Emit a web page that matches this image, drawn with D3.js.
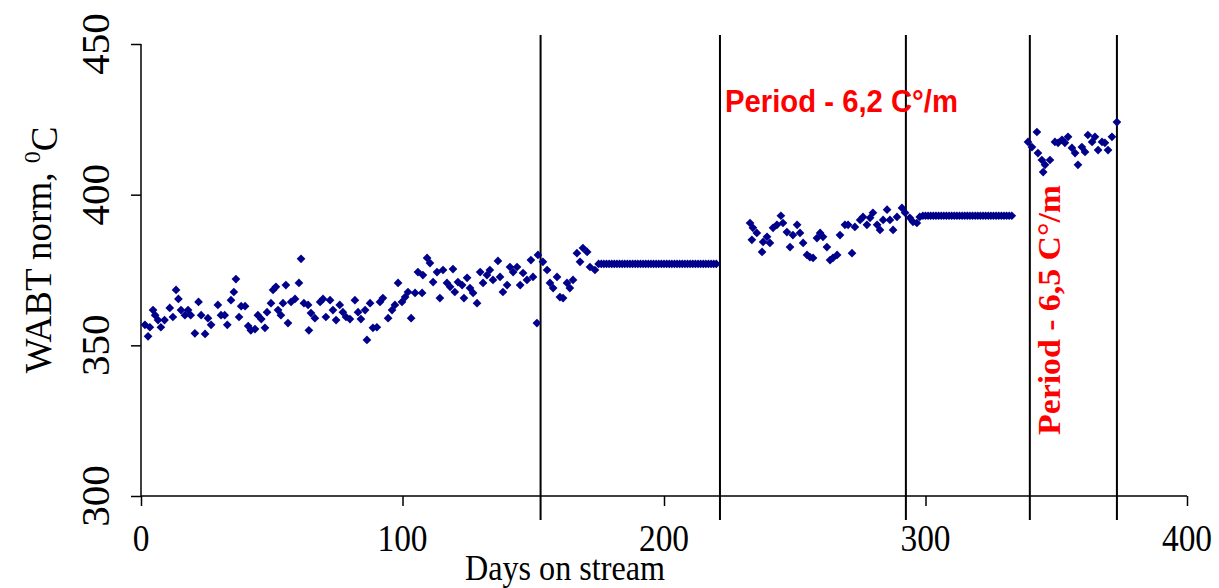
<!DOCTYPE html>
<html>
<head>
<meta charset="utf-8">
<style>
  body { margin: 0; background: #fff; }
  svg text { font-family: "Liberation Serif", "Times New Roman", serif; fill: #000; }
  .axis path, .axis line { stroke: #000; stroke-width: 1.5; }
  .note { fill: #ff0000 !important; font-weight: bold; }
</style>
</head>
<body>
<svg id="chart" width="1219" height="588"></svg>

<script src="https://cdn.jsdelivr.net/npm/d3@7/dist/d3.min.js"></script>
<script>
// axis ticks
var xTicks = [0, 100, 200, 300, 400];
var yTicks = [300, 350, 400, 450];

// period boundaries (days)
var periodLines = [152.8, 221.4, 292.5, 339.9, 373.2];

// WABT norm, measured points before the first gap
var daysA = [1.5, 2.7, 3.4, 4.6, 5.4, 6.5, 7.6, 9, 11, 12.2, 13.4, 14.3, 15.3, 16.8, 18, 19, 20.6, 22, 23, 24.5,
  25.6, 26.8, 29.4, 30.6, 32, 33, 34.4, 35.5, 36.3, 37.5, 38.3, 39.8, 41, 42, 43.6, 44.7, 46, 47.4, 48.2, 49.7,
  50.5, 51.6, 52.4, 53.5, 54.3, 55.4, 56.2, 57.4, 58.9, 60.4, 61.2, 62.3, 63.9, 64.2, 65, 66.5, 68.5, 69.6, 70.7, 72.3,
  73.4, 74.6, 76, 77.2, 78.4, 79.9, 81.8, 83, 84.1, 85.7, 86.4, 87.6, 88.7, 90.2, 91.4, 92.5, 94.5, 96, 97.1, 98.3,
  99.8, 101, 102.1, 103.3, 104.8, 105.9, 107.5, 107.8, 109.4, 110.5, 111.7, 113.2, 114.3, 115.5, 117, 118.2, 119.3, 120, 121.2, 122.8,
  123.5, 124.7, 125.8, 127, 128.5, 129.7, 130.8, 132.3, 133.4, 134.6, 136.5, 137.3, 138.4, 140, 141.1, 142.3, 143.8, 145, 146.1, 147.6,
  149.1, 149.9, 151.4, 151.8, 153.7, 155.3, 156.4, 157.6, 159.1, 160.2, 161.4, 162.9, 164, 165.2, 166.7, 167.9, 169, 170.6, 171.7, 173.6];
var wabtA = [356.8, 353, 356, 361.7, 360, 358.4, 356, 358.4, 362.4, 359.4, 368.4, 365.4, 361.7, 360, 361.7, 360, 354, 364.4, 360, 353.8,
  359, 356.8, 363.4, 360, 360, 356.8, 365, 367.7, 372, 359.4, 363, 363, 356.4, 355, 355.4, 360, 358.7, 355.8, 361, 364,
  368.4, 369.4, 361.7, 360, 364, 370, 357.4, 364.4, 365.4, 370.7, 378.7, 364, 363.4, 355, 360.7, 359, 364.4, 365.4, 359.4, 365,
  361.7, 358.4, 363.4, 361, 359.4, 358.7, 365, 361, 358.7, 361.7, 351.8, 364, 355.8, 356, 364.4, 365.7, 359, 361.7, 363.4, 370.7,
  364.4, 366, 367.7, 359, 367.4, 374.3, 367.4, 373.3, 379, 377.3, 371, 374.3, 365.7, 375, 370.7, 369.4, 375.3, 367.7, 371, 370,
  365.7, 372.4, 369, 367.4, 364, 374.3, 370.7, 373.3, 375, 371.7, 378, 372.7, 367.7, 370, 376, 374.3, 376, 370, 374, 371.7,
  378.3, 372.7, 357.4, 380, 377.7, 375, 370.7, 369, 372.7, 366, 365.7, 370.7, 369, 371.7, 380.6, 377.7, 382.3, 381, 376, 375];

// held value, first gap
var daysB = [175, 176, 177, 178, 179, 180, 181, 182, 183, 184, 185, 186, 187, 188, 189, 190, 191, 192, 193, 194, 195, 196, 197,
  198, 199, 200, 201, 202, 203, 204, 205, 206, 207, 208, 209, 210, 211, 212, 213, 214, 215, 216, 217, 218, 219, 220];
var wabtB = [377, 377, 377, 377, 377, 377, 377, 377, 377, 377, 377, 377, 377, 377, 377, 377, 377, 377, 377, 377, 377, 377, 377,
  377, 377, 377, 377, 377, 377, 377, 377, 377, 377, 377, 377, 377, 377, 377, 377, 377, 377, 377, 377, 377, 377, 377];

// period 6,2 C/m
var daysC = [232.9, 234, 233.6, 235.5, 237.5, 237.9, 239.4, 240.5, 241.7, 243.2, 244.7, 245.5, 247, 248.2, 249.3, 250.9, 252, 253.2,
  254.7, 255.8, 257, 258.5, 259.7, 260.8, 262.3, 263.5, 264.6, 266.2, 267.3, 269.2, 270.4, 271.9, 273, 275, 276.1, 277.6, 278.8,
  279.9, 281.5, 282.6, 283.8, 285.3, 286.4, 287.6, 289.1, 291, 292.2, 294, 295.2, 296.7, 297.8];
var wabtC = [390.6, 389, 385, 387.3, 381, 384.3, 386, 384, 389, 390, 393, 390.6, 387.6, 382.6, 386.6, 390, 387.3, 384,
  380, 379.3, 379, 385.6, 387.3, 386, 382.6, 378.3, 379, 380, 386.6, 390, 390, 380.6, 389.3, 391.6, 392.6, 390, 392.3,
  394, 390, 388.3, 391.6, 395, 391.6, 388.3, 392.6, 395.6, 394, 392.3, 391, 390.6, 392.6];

// held value, second gap
var daysD = [299, 300, 301, 302, 303, 304, 305, 306, 307, 308, 309, 310, 311, 312, 313, 314, 315, 316, 317, 318, 319, 320,
  321, 322, 323, 324, 325, 326, 327, 328, 329, 330, 331, 332, 333];
var wabtD = [393, 393, 393, 393, 393, 393, 393, 393, 393, 393, 393, 393, 393, 393, 393, 393, 393, 393, 393, 393, 393, 393,
  393, 393, 393, 393, 393, 393, 393, 393, 393, 393, 393, 393, 393];

// period 6,5 C/m
var daysE = [339.2, 340.7, 342.6, 343, 344.5, 345, 345.7, 347.6, 349.5, 350.7, 352.2, 353.3, 354.5, 356, 357.2, 358.3, 359.8,
  361, 362.1, 363.7, 364.8, 366, 367.5, 368.6, 369.8, 371.3, 373.2];
var wabtE = [417.5, 415.8, 420.8, 413.8, 411.5, 407.5, 409.9, 411.5, 417.5, 417.2, 418.2, 417.2, 419.2, 415.5, 413.8, 409.9, 415.8,
  414.2, 419.8, 417.5, 419.2, 414.8, 417.5, 417.2, 414.8, 419.2, 424.1];

var svg = d3.select("#chart");

var x = d3.scaleLinear().domain([0, 400]).range([141, 1187]);
var y = d3.scaleLinear().domain([300, 450]).range([496, 44]);

// axes
var xAxis = svg.append("g")
  .attr("class", "axis")
  .attr("transform", "translate(0," + y(300) + ")")
  .call(d3.axisBottom(x).tickValues(xTicks).tickSize(10).tickFormat(""));
xAxis.select(".domain").attr("d", "M" + x(0) + ",0H" + x(400));

var yAxis = svg.append("g")
  .attr("class", "axis")
  .attr("transform", "translate(" + x(0) + ",0)")
  .call(d3.axisLeft(y).tickValues(yTicks).tickSize(10).tickFormat(""));
yAxis.select(".domain").attr("d", "M0," + y(450) + "V" + y(300));

// tick labels (the source image is a bit squeezed horizontally)
svg.selectAll(".xlab")
  .data(xTicks)
  .enter().append("text")
  .attr("class", "xlab")
  .attr("transform", function(d) { return "translate(" + x(d) + ",551) scale(0.88,1)"; })
  .attr("text-anchor", "middle")
  .style("font-size", "38px")
  .text(function(d) { return d; });

svg.selectAll(".ylab")
  .data(yTicks)
  .enter().append("text")
  .attr("class", "ylab")
  .attr("transform", function(d) { return "translate(95," + y(d) + ") rotate(-90)"; })
  .attr("dy", "0.35em")
  .attr("text-anchor", "middle")
  .style("font-size", "41px")
  .text(function(d) { return d; });

// axis titles
svg.append("text")
  .attr("transform", "translate(565,580) scale(0.92,1)")
  .attr("text-anchor", "middle")
  .style("font-size", "35px")
  .text("Days on stream");

var yt = svg.append("text")
  .attr("transform", "translate(38,250) rotate(-90)")
  .attr("dy", "0.35em")
  .attr("text-anchor", "middle")
  .style("font-size", "37px");
yt.append("tspan").text("WABT norm, ");
yt.append("tspan").attr("dy", "-0.45em").style("font-size", "24px").text("0");
yt.append("tspan").attr("dy", "0.45em").text("C");

// period lines
svg.selectAll(".pline")
  .data(periodLines)
  .enter().append("line")
  .attr("class", "pline")
  .attr("x1", function(d) { return x(d); })
  .attr("x2", function(d) { return x(d); })
  .attr("y1", y(453))
  .attr("y2", y(292))
  .attr("stroke", "#000")
  .attr("stroke-width", 2);

// points
var pts = [];
[[daysA, wabtA], [daysB, wabtB], [daysC, wabtC], [daysD, wabtD], [daysE, wabtE]].forEach(function(s) {
  s[0].forEach(function(d, i) { pts.push({ day: d, v: s[1][i] }); });
});

var diamond = d3.symbol().type(d3.symbolSquare).size(38);
svg.selectAll(".pt")
  .data(pts)
  .enter().append("path")
  .attr("class", "pt")
  .attr("d", diamond)
  .attr("transform", function(d) { return "translate(" + x(d.day) + "," + y(d.v) + ") rotate(45)"; })
  .attr("fill", "#00008b");

// annotations
svg.append("text")
  .attr("class", "note")
  .attr("x", 725)
  .attr("y", 112)
  .attr("textLength", 233)
  .attr("lengthAdjust", "spacingAndGlyphs")
  .style("font-family", "'Liberation Sans', Arial, sans-serif")
  .style("font-size", "31px")
  .text("Period - 6,2 C°/m");

svg.append("text")
  .attr("class", "note")
  .attr("transform", "translate(1049,310) rotate(-90)")
  .attr("dy", "0.35em")
  .attr("text-anchor", "middle")
  .attr("textLength", 250)
  .attr("lengthAdjust", "spacingAndGlyphs")
  .style("font-size", "32px")
  .text("Period  - 6,5 C°/m");
</script>
</body>
</html>
